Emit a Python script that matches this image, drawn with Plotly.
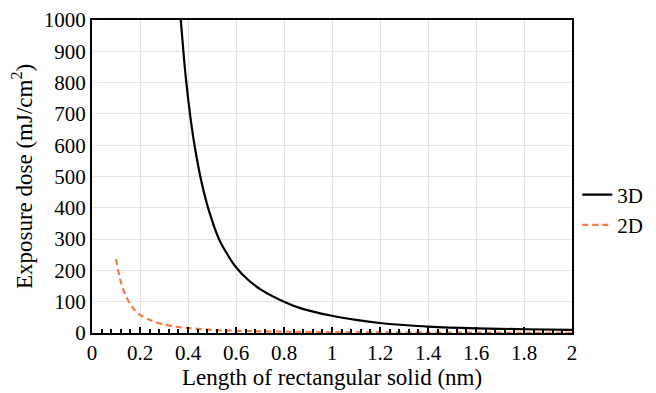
import plotly.graph_objects as go

# Data
x_3d = [0.37, 0.39, 0.41, 0.43, 0.457, 0.4875, 0.529, 0.565, 0.6, 0.65,
        0.707, 0.8, 0.874, 1.0, 1.1, 1.2, 1.3, 1.4, 1.6, 1.8, 2.0]
y_3d = [1000, 822, 690, 587, 480, 390, 300, 250, 210, 170,
        137, 100, 78, 55, 42, 32, 25.5, 20.5, 15, 12, 10]

x_2d = [0.1, 0.12, 0.14, 0.16, 0.18, 0.2, 0.25, 0.3, 0.35, 0.4, 0.5, 0.6,
        0.7, 0.8, 1.0, 1.2, 1.4, 1.6, 1.8, 2.0]
y_2d = [236, 164, 120, 92, 72, 58, 39, 27, 20, 16, 10, 7,
        5.2, 4, 2.6, 1.8, 1.3, 1.0, 0.8, 0.65]

x_ticks = [0, 0.2, 0.4, 0.6, 0.8, 1, 1.2, 1.4, 1.6, 1.8, 2]
x_tick_labels = ["0", "0.2", "0.4", "0.6", "0.8", "1", "1.2", "1.4", "1.6", "1.8", "2"]
y_ticks = [0, 100, 200, 300, 400, 500, 600, 700, 800, 900, 1000]

FONT = "Liberation Serif"

fig = go.Figure()
fig.add_trace(go.Scatter(x=x_3d, y=y_3d, mode="lines", name="3D",
                         line=dict(color="black", width=2.2, shape="spline", smoothing=0.8),
                         legendgroup="a"))
fig.add_trace(go.Scatter(x=x_2d, y=y_2d, mode="lines", name="2D",
                         line=dict(color="#f07d40", width=2.2, dash="6px,4px",
                                   shape="spline", smoothing=0.8),
                         legendgroup="b"))

fig.update_layout(
    width=648, height=385,
    margin=dict(l=84, r=84, t=12, b=60, autoexpand=False),
    paper_bgcolor="white", plot_bgcolor="white",
    font=dict(family=FONT, size=21, color="black"),
    showlegend=True,
    legend=dict(x=1.011, y=0.393, xanchor="left", yanchor="middle",
                font=dict(family=FONT, size=21, color="black"),
                tracegroupgap=0, itemwidth=30, bgcolor="rgba(0,0,0,0)"),
    xaxis=dict(
        range=[0, 2], tickvals=x_ticks, ticktext=x_tick_labels,
        showgrid=True, gridcolor="#e3e3e3", gridwidth=1,
        showline=True, linecolor="black", linewidth=2, mirror=True,
        ticks="inside", ticklen=6, tickwidth=1.5, tickcolor="black",
        minor=dict(dtick=0.04, ticks="inside", ticklen=4, tickwidth=1.5,
                   tickcolor="black", showgrid=False),
        zeroline=False, automargin=False,
        title=dict(text="Length of rectangular solid (nm)",
                   font=dict(family=FONT, size=23), standoff=4),
        tickfont=dict(family=FONT, size=21),
    ),
    yaxis=dict(
        range=[0, 1000], tickvals=y_ticks,
        showgrid=True, gridcolor="#e3e3e3", gridwidth=1,
        showline=True, linecolor="black", linewidth=2, mirror=True,
        ticks="", zeroline=False, automargin=False,
        title=dict(text="Exposure dose (mJ/cm<sup>2</sup>)",
                   font=dict(family=FONT, size=23), standoff=5),
        tickfont=dict(family=FONT, size=21),
    ),
)

fig.write_html("out.html")
